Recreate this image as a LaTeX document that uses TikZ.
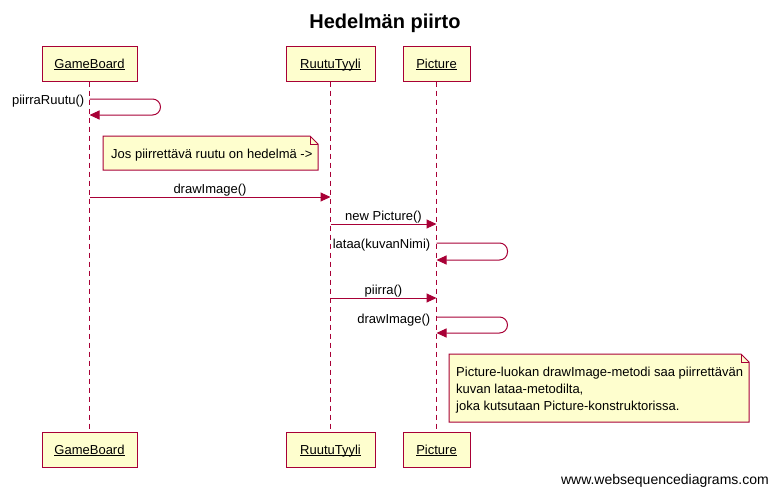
\documentclass[tikz,border=0pt]{standalone}
\usepackage{fontspec}
\setmainfont{Liberation Sans}
\usetikzlibrary{arrows.meta,backgrounds}
\definecolor{wsdred}{HTML}{A80036}
\definecolor{wsdfill}{HTML}{FEFECE}
\newcommand\wsdpname[1]{\underline{\smash{#1}}}
\begin{document}
\begin{tikzpicture}[x=1pt,y=-1pt,
  font=\fontsize{13}{15}\selectfont,
  participant/.style={draw=wsdred, fill=wsdfill, line width=1pt, minimum width=#1, minimum height=35pt, inner sep=0pt, text height=9.5pt, text depth=0pt},
  lifeline/.style={draw=wsdred, line width=1pt, dash pattern=on 5pt off 4pt},
  msg/.style={draw=wsdred, line width=1pt, -{Triangle[length=10pt,width=9pt]}},
  selfmsg/.style={msg, rounded corners=8pt},
  lbl/.style={inner sep=0.5pt, text=black},
  notetext/.style={inner sep=0pt, align=left, font=\fontsize{13}{17}\selectfont, anchor=north west},
  notebox/.style={draw=wsdred, fill=wsdfill, line width=1pt},
  fold/.style={draw=wsdred, line width=1pt}
]
\useasboundingbox (0,0) rectangle (770,490);

\node[font=\bfseries\fontsize{20}{24}\selectfont] (title) at (385,23) {Hedelmän piirto};

% participants
\node[participant=95pt] (gb) at (89.5,63.5) {\wsdpname{GameBoard}};
\node[participant=89pt] (rt) at (330.5,63.5) {\wsdpname{RuutuTyyli}};
\node[participant=67pt] (pic) at (436.5,63.5) {\wsdpname{Picture}};
\node[participant=95pt] (gb2) at (89.5,449.5) {\wsdpname{GameBoard}};
\node[participant=89pt] (rt2) at (330.5,449.5) {\wsdpname{RuutuTyyli}};
\node[participant=67pt] (pic2) at (436.5,449.5) {\wsdpname{Picture}};

\begin{scope}[on background layer]
\draw[lifeline] (gb.south) -- (gb2.north);
\draw[lifeline] (rt.south) -- (rt2.north);
\draw[lifeline] (pic.south) -- (pic2.north);
\end{scope}

% piirraRuutu self message
\coordinate (s1a) at (89.5,99);
\coordinate (s1b) at (89.5,115);
\draw[selfmsg] (s1a) -- ++(71,0) -- ++(0,16) -- (s1b);
\node[lbl, anchor=east] (l1) at (85,101.5) {piirraRuutu()};

% note 1
\node[notetext] (n1t) at (111,149) {Jos piirrettävä ruutu on hedelmä ->};
\coordinate (n1nw) at (103,136);
\coordinate (n1se) at (318,170);
\begin{scope}[on background layer]
\draw[notebox] (n1nw) -- (310,136) -- (318,144) -- (n1se) -- (103,170) -- cycle;
\end{scope}
\draw[fold] (310,136) -- (310,144) -- (318,144);

% drawImage
\coordinate (m1a) at (89.5,197);
\coordinate (m1b) at (330.5,197);
\draw[msg] (m1a) -- node[lbl, above] (l2) {drawImage()} (m1b);

% new Picture
\coordinate (m2a) at (330.5,224);
\coordinate (m2b) at (436.5,224);
\draw[msg] (m2a) -- node[lbl, above] (l3) {new Picture()} (m2b);

% lataa self
\coordinate (s2a) at (436.5,243);
\coordinate (s2b) at (436.5,260);
\draw[selfmsg] (s2a) -- ++(71,0) -- ++(0,17) -- (s2b);
\node[lbl, anchor=east] (l4) at (431,245) {lataa(kuvanNimi)};

% piirra
\coordinate (m3a) at (330.5,298);
\coordinate (m3b) at (436.5,298);
\draw[msg] (m3a) -- node[lbl, above] (l5) {piirra()} (m3b);

% drawImage self
\coordinate (s3a) at (436.5,317);
\coordinate (s3b) at (436.5,333);
\draw[selfmsg] (s3a) -- ++(71,0) -- ++(0,16) -- (s3b);
\node[lbl, anchor=east] (l6) at (431,320) {drawImage()};

% note 2
\node[notetext] (n2t) at (456,367) {Picture-luokan drawImage-metodi saa piirrettävän\\kuvan lataa-metodilta,\\joka kutsutaan Picture-konstruktorissa.};
\begin{scope}[on background layer]
\draw[notebox] (449,354) -- (741,354) -- (749,362) -- (749,422) -- (449,422) -- cycle;
\end{scope}
\draw[fold] (741,354) -- (741,362) -- (749,362);

\node[anchor=east, inner sep=0pt, font=\fontsize{14}{16}\selectfont] (footer) at (769,481) {www.websequencediagrams.com};
\end{tikzpicture}
\end{document}
